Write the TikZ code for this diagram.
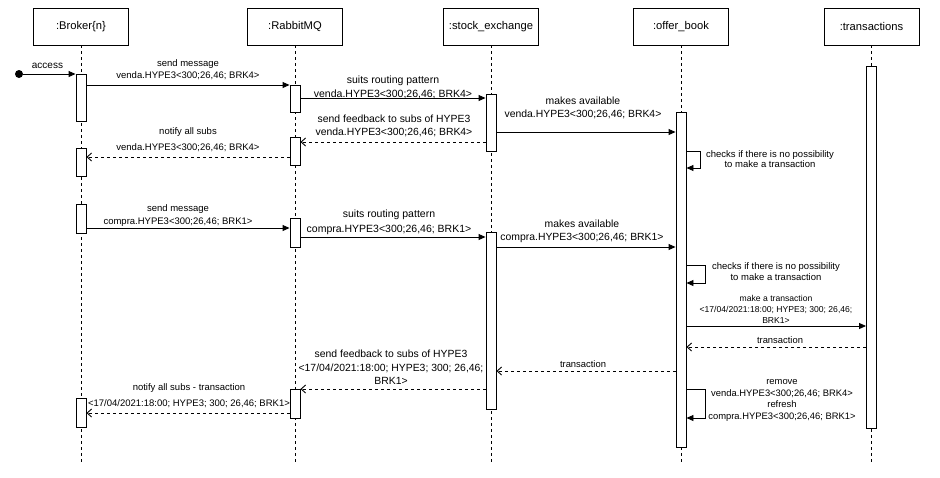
\documentclass[tikz,border=0pt]{standalone}
\usepackage{fontspec}
\setmainfont{Liberation Sans}
\usetikzlibrary{arrows.meta, positioning, calc}

\begin{document}
\begin{tikzpicture}[x=1pt, y=-1pt, line width=0.9pt,
  hdr/.style={rectangle, draw, minimum width=95pt, minimum height=37pt,
              inner sep=0pt, font=\fontsize{11.2}{13}\selectfont},
  life/.style={dash pattern=on 3pt off 3pt},
  act/.style={rectangle, draw, fill=white, minimum width=10pt,
              inner sep=0pt, anchor=north},
  msg/.style={-{Triangle[length=7pt, width=6pt]}},
  ret/.style={dash pattern=on 3pt off 3pt,
              -{Straight Barb[length=4.5pt, width=8pt]}},
  lbl/.style 2 args={align=center, inner sep=0pt,
                     font=\fontsize{#1}{#2}\selectfont}
]
\useasboundingbox (0,0) rectangle (940,477);

%% Cabeceras y lineas de vida
\node[hdr] (broker) at (81,26.5)  {:Broker\{n\}};
\node[hdr] (rabbit) at (295,26.5) {:RabbitMQ};
\node[hdr] (stock)  at (491,26.5) {:stock\_exchange};
\node[hdr] (offer)  at (681,26.5) {:offer\_book};
\node[hdr] (trans)  at (871.5,26.5) {:transactions};

\draw[life] (broker.south) -- (broker |- 0,465);
\draw[life] (rabbit.south) -- (rabbit |- 0,465);
\draw[life] (stock.south)  -- (stock |- 0,465);
\draw[life] (offer.south)  -- (offer |- 0,465);
\draw[life] (trans.south)  -- (trans |- 0,465);

%% Activaciones
\node[act, minimum height=47pt]  (b1) at (broker |- 0,74)  {};
\node[act, minimum height=28pt]  (b2) at (broker |- 0,148) {};
\node[act, minimum height=29pt]  (b3) at (broker |- 0,204) {};
\node[act, minimum height=29pt]  (b4) at (broker |- 0,398) {};
\node[act, minimum height=27pt]  (r1) at (rabbit |- 0,85)  {};
\node[act, minimum height=28pt]  (r2) at (rabbit |- 0,137) {};
\node[act, minimum height=29pt]  (r3) at (rabbit |- 0,218) {};
\node[act, minimum height=29pt]  (r4) at (rabbit |- 0,389) {};
\node[act, minimum height=57pt]  (s1) at (stock |- 0,94)   {};
\node[act, minimum height=177pt] (s2) at (stock |- 0,232)  {};
\node[act, minimum height=335pt] (o1) at (offer |- 0,112)  {};
\node[act, minimum height=362pt] (t1) at (trans |- 0,66)   {};

%% Venta
\node[circle, fill, inner sep=0pt, minimum size=8pt] (start) at (19,74) {};
\draw[msg] (start) -- (b1.north west);
\node[lbl={10}{12}] (lacc) at (47.5,65.5) {access};

\draw[msg] (b1.east |- 0,85) -- (r1.north west);
\node[lbl={9.5}{12}] (lsendA) at (188,70)
  {send message\\venda.HYPE3<300;26,46; BRK4>};

\draw[msg] (r1.east |- 0,98) -- (s1.west |- 0,98);
\node[lbl={10.5}{14}] (lsuitsA) at (393,87)
  {suits routing pattern\\venda.HYPE3<300;26,46; BRK4>};

\draw[msg] (s1.east |- 0,132) -- (o1.west |- 0,132);
\node[lbl={10.4}{12.6}] (lavailA) at (583,108)
  {makes available\\venda.HYPE3<300;26,46; BRK4>};

\draw[ret] (s1.west |- 0,142) -- (r2.east |- 0,142);
\node[lbl={10.4}{13}] (lfeedA) at (394,125.5)
  {send feedback to subs of HYPE3\\venda.HYPE3<300;26,46; BRK4>};

\draw[ret] (r2.west |- 0,157) -- (b2.east |- 0,157);
\node[lbl={9.5}{16}] (lnotifyA) at (188,140)
  {notify all subs\\venda.HYPE3<300;26,46; BRK4>};

\draw[msg] (o1.east |- 0,151) -- ++(14,0) |- (o1.east |- 0,168);
\node[lbl={9.5}{10.5}] (lcheckA) at (770,159)
  {checks if there is no possibility\\to make a transaction};

%% Compra
\draw[msg] (b3.east |- 0,228) -- (r3.west |- 0,228);
\node[lbl={9.5}{13}] (lsendB) at (178,215.5)
  {send message\\compra.HYPE3<300;26,46; BRK1>};

\draw[msg] (r3.east |- 0,237) -- (s2.west |- 0,237);
\node[lbl={10.5}{15}] (lsuitsB) at (389,222.5)
  {suits routing pattern\\compra.HYPE3<300;26,46; BRK1>};

\draw[msg] (s2.east |- 0,247) -- (o1.west |- 0,247);
\node[lbl={10.4}{13}] (lavailB) at (582,231.5)
  {makes available\\compra.HYPE3<300;26,46; BRK1>};

\draw[msg] (o1.east |- 0,265) -- ++(19,0) |- (o1.east |- 0,283);
\node[lbl={9.5}{11}] (lcheckB) at (776,271.5)
  {checks if there is no possibility\\to make a transaction};

%% Transaccion
\draw[msg] (o1.east |- 0,326) -- (t1.west |- 0,326);
\node[lbl={8.6}{11}] (lmake) at (776,309)
  {make a transaction\\<17/04/2021:18:00; HYPE3; 300; 26,46;\\BRK1>};

\draw[ret] (t1.west |- 0,347) -- (o1.east |- 0,347);
\node[lbl={9.4}{11}] (ltransA) at (780,340.5) {transaction};

\draw[ret] (o1.west |- 0,371) -- (s2.east |- 0,371);
\node[lbl={9.4}{11}] (ltransB) at (583,364.5) {transaction};

\draw[ret] (s2.west |- 0,389) -- (r4.east |- 0,389);
\node[lbl={10.4}{13.5}] (lfeedB) at (391,367.5)
  {send feedback to subs of HYPE3\\<17/04/2021:18:00; HYPE3; 300; 26,46;\\BRK1>};

\draw[ret] (r4.west |- 0,413) -- (b4.east |- 0,413);
\node[lbl={9.5}{16}] (lnotifyB) at (189,396)
  {notify all subs - transaction\\<17/04/2021:18:00; HYPE3; 300; 26,46; BRK1>};

\draw[msg] (o1.east |- 0,389) -- ++(19,0) |- (o1.east |- 0,418);
\node[lbl={9.4}{11.7}] (lremove) at (782,400.5)
  {remove\\venda.HYPE3<300;26,46; BRK4>\\refresh\\compra.HYPE3<300;26,46; BRK1>};

\end{tikzpicture}
\end{document}
